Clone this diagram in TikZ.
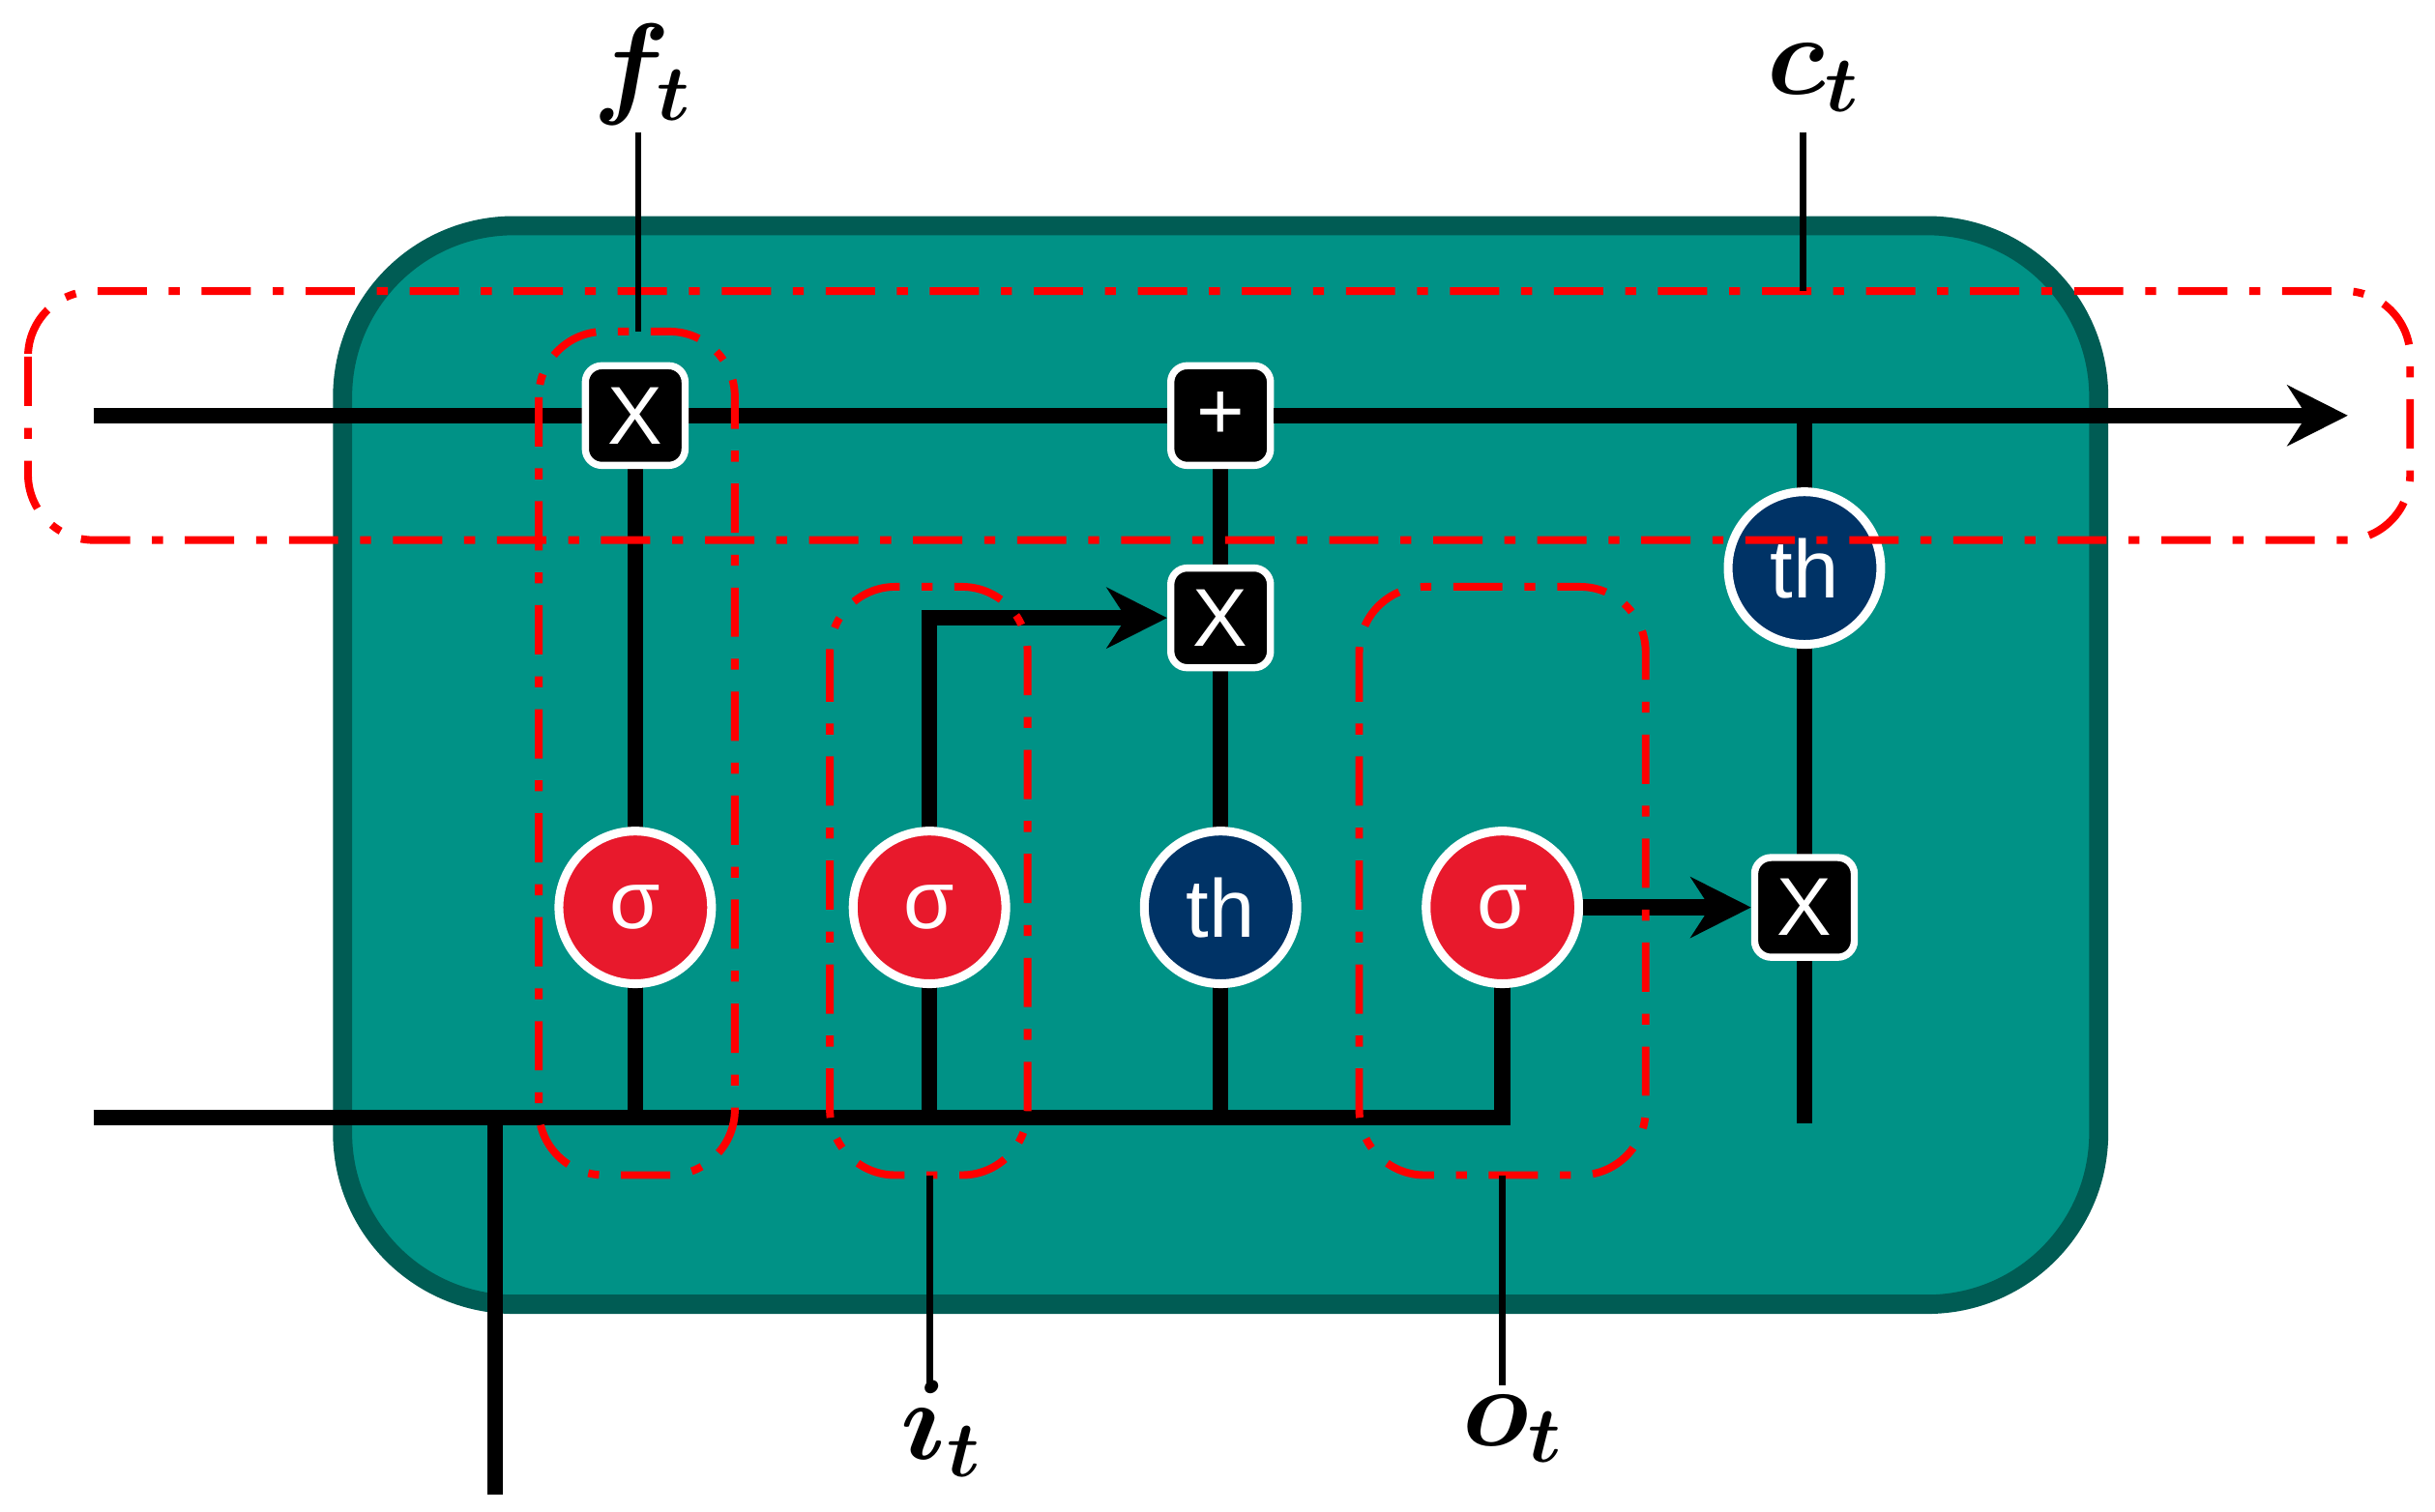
\documentclass[tikz,border=0pt]{standalone}
\usepackage{fontspec}
\setmainfont{Liberation Sans}
\usepackage{bm}
\usetikzlibrary{arrows.meta}
\begin{document}
\begin{tikzpicture}[x=0.01cm,y=-0.01cm,
  wire/.style={line width=2.9pt,black},
  arr/.style={wire,-{Stealth[length=11pt,width=11pt,inset=3.5pt]}},
  op/.style={draw=white,line width=1.3pt,fill=black,rounded corners=3pt,minimum size=0.64cm,inner sep=0pt,text=white,font=\fontsize{15}{17}\selectfont},
  gate/.style={circle,draw=white,line width=1.6pt,minimum size=0.98cm,inner sep=0pt,text=white,font=\fontsize{15}{17}\selectfont},
  sig/.style={gate,fill=sred},
  tnh/.style={gate,fill=snavy},
  grp/.style={draw=red,line width=1.4pt,dash pattern=on 9pt off 4pt on 2pt off 4pt,rounded corners=12pt},
  lbl/.style={font=\fontsize{22}{26}\selectfont},
  tick/.style={line width=1.2pt,black}]
\definecolor{sred}{RGB}{232,25,44}
\definecolor{snavy}{RGB}{0,51,102}
\definecolor{teal1}{RGB}{0,146,134}
\definecolor{teal2}{RGB}{0,92,84}
\useasboundingbox (0,0) rectangle (1564,971);
\draw[draw=teal2,fill=teal1,line width=3.5pt,rounded corners=1.1cm] (220,145) rectangle (1348,838);
% positions
\coordinate (cin) at (60,267);
\coordinate (cout) at (1508,267);
\coordinate (hin) at (60,718);
\coordinate (hend) at (965,718);
\coordinate (xin) at (318,960);
\coordinate (cbr) at (1159,267);
\coordinate (cend) at (1159,722);
% wires (drawn first)
\draw[wire] (hin) -- (hend) -- (965,583);
\draw[wire] (xin) -- (318,718);
\draw[wire] (408,718) -- (408,267);
\draw[wire] (597,718) -- (597,397);
\draw[wire] (784,718) -- (784,267);
\draw[wire] (cin) -- (1400,267);
\draw[wire] (cbr) -- (cend);
% nodes
\node[op] (fx) at (408,267) {X};
\node[op] (plus) at (784,267) {+};
\node[op] (ix) at (784,397) {X};
\node[op] (ox) at (1159,583) {X};
\node[sig] (fs) at (408,583) {σ};
\node[sig] (is) at (597,583) {σ};
\node[tnh] (it) at (784,583) {th};
\node[sig] (os) at (965,583) {σ};
\node[tnh] (ct) at (1159,365) {th};
% arrows
\draw[arr] (is.north) |- (ix.west);
\draw[arr] (plus.east) -- (cout);
\draw[arr] (os.east) -- (ox.west);
% groups
\draw[grp] (18,187) rectangle (1548,347);
\draw[grp] (346,213) rectangle (472,755);
\draw[grp] (533,377) rectangle (660,755);
\draw[grp] (873,377) rectangle (1057,755);
% labels
\node[lbl] (lf) at (413,48) {$\bm{f_t}$};
\node[lbl] (lc) at (1165,50) {$\bm{c_t}$};
\node[lbl] (li) at (605,918) {$\bm{i_t}$};
\node[lbl] (lo) at (972,918) {$\bm{o_t}$};
\draw[tick] (410,85) -- (410,213);
\draw[tick] (1158,85) -- (1158,187);
\draw[tick] (597,755) -- (597,890);
\draw[tick] (965,755) -- (965,890);
\end{tikzpicture}
\end{document}
